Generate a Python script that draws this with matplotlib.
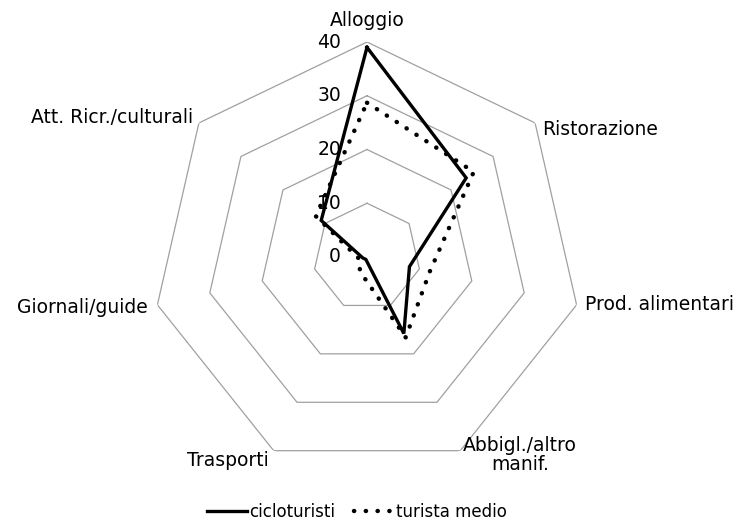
import numpy as np
import matplotlib
matplotlib.use("Agg")
import matplotlib.pyplot as plt
from matplotlib.lines import Line2D
from matplotlib.transforms import offset_copy

plt.rcParams['font.family'] = ['DejaVu Sans']

categories = ["Alloggio", "Ristorazione", "Prod. alimentari", "Abbigl./altro\nmanif.",
              "Trasporti", "Giornali/guide", "Att. Ricr./culturali"]
cicloturisti = [39.0, 23.6, 8.1, 15.8, 0.5, 0.8, 10.9]
turista_medio = [28.7, 25.4, 12.0, 16.6, 3.0, 1.5, 12.2]
ticks = [0, 10, 20, 30, 40]
series_names = ["cicloturisti", "turista medio"]

W, H = 739, 526
fig = plt.figure(figsize=(W / 100, H / 100), dpi=100)
cx, cy, R = 367, 257, 215
ax = fig.add_axes([(cx - R) / W, (H - cy - R) / H, 2 * R / W, 2 * R / H], projection='polar')
ax.set_theta_zero_location('N')
ax.set_theta_direction(-1)
ax.set_ylim(0, 40)
ax.grid(False)
ax.spines['polar'].set_visible(False)
ax.set_xticks([])
ax.set_yticks([])
ax.patch.set_visible(False)

n = len(categories)
ang = np.linspace(0, 2 * np.pi, n, endpoint=False)
ang_c = np.append(ang, ang[0])

for t in ticks[1:]:
    ax.plot(ang_c, [t] * (n + 1), color='#a0a0a0', lw=0.9, zorder=1)

ax.plot(ang_c, cicloturisti + cicloturisti[:1], color='black', lw=2.4,
        solid_joinstyle='miter', zorder=3)
ax.plot(ang_c, turista_medio + turista_medio[:1], color='black', lw=3.2,
        linestyle=(0, (0.05, 2.6)), dash_capstyle='round', zorder=2)

# radial tick labels
tr = offset_copy(ax.transData, fig=fig, x=-26, y=0, units='dots')
for t in ticks:
    ax.text(0, t, str(t), transform=tr, ha='right', va='center', fontsize=13.5)

# category labels placed relative to outer vertices
fs = 13.5
specs = [
    (0, 0, 22, 'center', 'center'),
    (1, 7, -7, 'left', 'center'),
    (2, 8, 0, 'left', 'center'),
    (3, 3, 15, 'left', 'top'),
    (4, -5, -10, 'right', 'center'),
    (5, -10, -3, 'right', 'center'),
    (6, -6, 5, 'right', 'center'),
]
for i, dx, dy, ha, va in specs:
    trc = offset_copy(ax.transData, fig=fig, x=dx, y=dy, units='dots')
    ax.text(ang[i], 40, categories[i], transform=trc, ha=ha, va=va,
            fontsize=fs, multialignment='center', linespacing=1.0)

handles = [
    Line2D([], [], color='black', lw=2.4),
    Line2D([], [], color='black', lw=3.2, linestyle=(0, (0.05, 2.6)), dash_capstyle='round'),
]
fig.legend(handles, series_names, loc='center', bbox_to_anchor=(0.483, 0.026),
           ncol=2, frameon=False, fontsize=12, handlelength=2.4, handletextpad=0.15,
           columnspacing=1.1)

fig.savefig('out.png', dpi=100)
